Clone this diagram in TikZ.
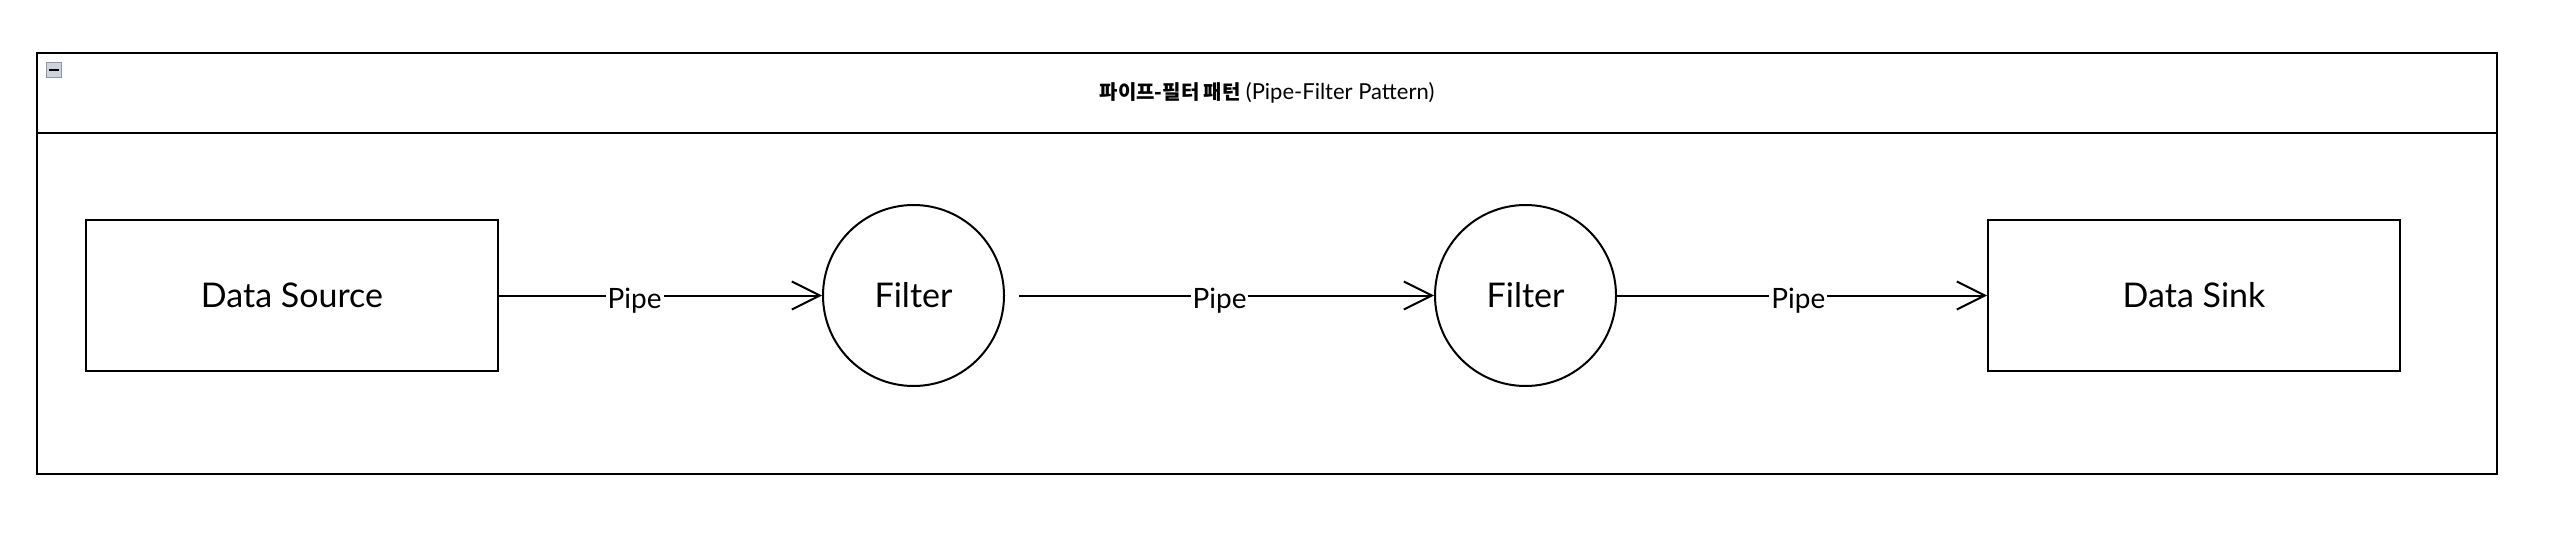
\documentclass[tikz,border=0pt]{standalone}
\usepackage{fontspec}
\setmainfont{Lato}
\newfontfamily\krfont{Noto Sans CJK KR}
\usetikzlibrary{arrows.meta}
\begin{document}
\begin{tikzpicture}[x=0.5pt,y=-0.5pt,
  line width=1pt,
  boxnode/.style={draw=black,rectangle,minimum width=206pt,minimum height=75.5pt,font=\fontsize{17}{20}\selectfont},
  filternode/.style={draw=black,circle,minimum size=90.5pt,inner sep=0pt,font=\fontsize{17}{20}\selectfont},
  pipe/.style={-{Straight Barb[length=14pt,width=14pt,line width=1pt]}},
  pipelabel/.style={fill=white,inner sep=1pt,yshift=-2.5pt,font=\fontsize{14}{16}\selectfont}]
\useasboundingbox (0,0) rectangle (2562,556);
% frame
\draw (37,53) rectangle (2497,474);
\draw (37,133) -- (2497,133);
% collapse icon
\node[draw={rgb,255:red,140;green,150;blue,170},fill={rgb,255:red,205;green,210;blue,220},line width=0.8pt,minimum size=7.5pt,inner sep=0pt] (icon) at (54,70) {};
\draw[line width=1.2pt] (49,70) -- (59,70);
% title
\node (title) at (1267,93) {{\krfont\bfseries\fontsize{10}{12}\selectfont 파이프-필터 패턴} {\fontsize{11}{13}\selectfont (Pipe-Filter Pattern)}};
% nodes
\node[boxnode] (src) at (292,295.5) {Data Source};
\node[filternode] (f1) at (913.5,295.5) {Filter};
\node[filternode] (f2) at (1525.5,295.5) {Filter};
\node[boxnode] (sink) at (2194,295.5) {Data Sink};
% pipes
\draw[pipe] (src.east) -- node[pipelabel,pos=0.42] {Pipe} (f1.west);
\draw[pipe,shorten <=7pt] (f1.east) -- node[pipelabel,pos=0.5] {Pipe} (f2.west);
\draw[pipe] (f2.east) -- node[pipelabel,pos=0.49] {Pipe} (sink.west);
\end{tikzpicture}
\end{document}
